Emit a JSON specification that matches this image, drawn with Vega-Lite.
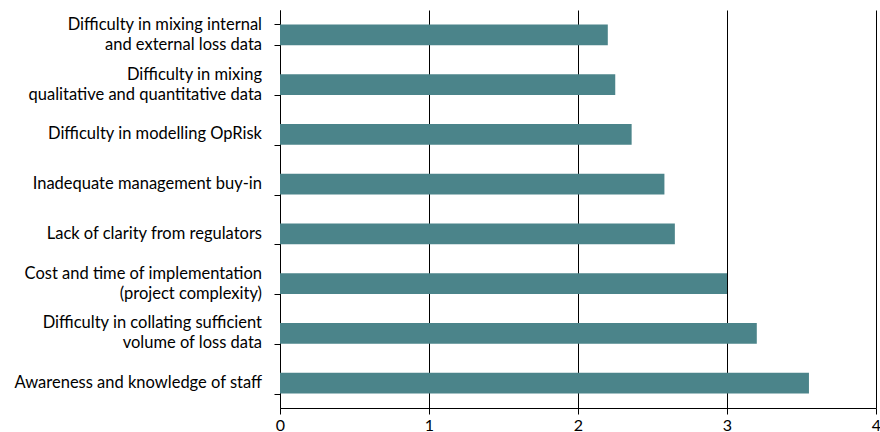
{
  "$schema": "https://vega.github.io/schema/vega-lite/v6.json",
  "autosize": {"type": "none"},
  "width": 596,
  "height": 398,
  "padding": {"left": 280, "top": 10, "right": 4, "bottom": 24},
  "background": "white",
  "config": {"view": {"stroke": null}, "font": "Lato"},
  "data": {"values": [
    {"issue": "Difficulty in mixing internal|and external loss data", "score": 2.2},
    {"issue": "Difficulty in mixing |qualitative and quantitative data", "score": 2.25},
    {"issue": "Difficulty in modelling OpRisk", "score": 2.36},
    {"issue": "Inadequate management buy-in", "score": 2.58},
    {"issue": "Lack of clarity from regulators", "score": 2.65},
    {"issue": "Cost and time of implementation |(project complexity)", "score": 3.0},
    {"issue": "Difficulty in collating sufficient |volume of loss data", "score": 3.2},
    {"issue": "Awareness and knowledge of staff", "score": 3.55}
  ]},
  "encoding": {
    "y": {
      "field": "issue", "type": "nominal", "sort": null,
      "scale": {"paddingInner": 0.58, "paddingOuter": 0.29},
      "axis": {
        "title": null, "domainColor": "black", "tickColor": "black", "tickSize": 6,
        "tickBand": "extent", "labels": false
      }
    }
  },
  "layer": [
    {
      "mark": {"type": "bar", "color": "#4B848A"},
      "encoding": {
        "x": {
          "field": "score", "type": "quantitative",
          "scale": {"domain": [0, 4], "nice": false},
          "axis": {
            "title": null, "values": [0, 1, 2, 3, 4], "format": "d",
            "grid": true, "gridColor": "black", "gridOpacity": 1, "gridWidth": 1,
            "domainColor": "black", "tickColor": "black", "tickSize": 6,
            "labelFontSize": 16, "labelColor": "black", "labelPadding": 3,
            "labelFlush": false
          }
        }
      }
    },
    {
      "transform": [{"filter": "indexof(datum.issue, '|') < 0"}],
      "mark": {"type": "text", "align": "right", "baseline": "middle", "dx": -18, "fontSize": 16.5, "color": "black"},
      "encoding": {
        "x": {"datum": 0},
        "text": {"field": "issue"}
      }
    },
    {
      "transform": [{"filter": "indexof(datum.issue, '|') >= 0"}],
      "mark": {"type": "text", "align": "right", "baseline": "middle", "dx": -18, "dy": -10, "fontSize": 16.5, "lineHeight": 20, "lineBreak": "|", "color": "black"},
      "encoding": {
        "x": {"datum": 0},
        "text": {"field": "issue"}
      }
    }
  ]
}
